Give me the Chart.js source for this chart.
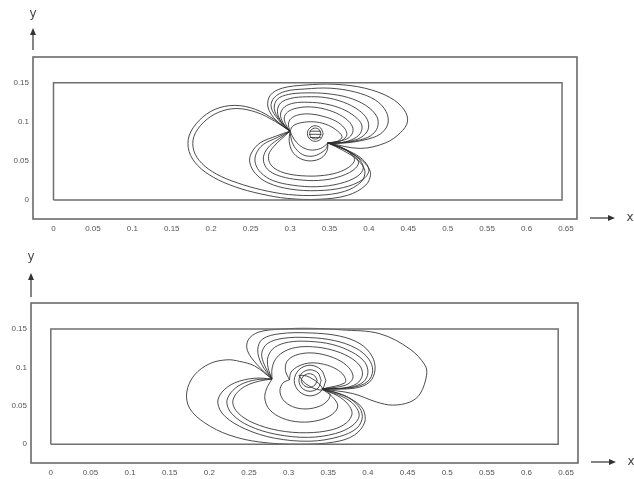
<!DOCTYPE html>
<html><head><meta charset="utf-8">
<script src="https://cdn.jsdelivr.net/npm/chart.js@4/dist/chart.umd.min.js"></script>
<style>
html,body{margin:0;padding:0;background:#fff;}
#wrap{position:relative;width:634px;height:479px;overflow:hidden;}
canvas{position:absolute;left:0;}
</style></head>
<body><div id="wrap"><canvas id="c1" width="634" height="240" style="top:0"></canvas><canvas id="c2" width="634" height="239" style="top:240px"></canvas></div>
<script>
// ---- tick labels ----
const xTickValues = [0,0.05,0.1,0.15,0.2,0.25,0.3,0.35,0.4,0.45,0.5,0.55,0.6,0.65];
const xTickLabels = ['0','0.05','0.1','0.15','0.2','0.25','0.3','0.35','0.4','0.45','0.5','0.55','0.6','0.65'];
const yTickValues = [0,0.05,0.1,0.15];
const yTickLabels = ['0','0.05','0.1','0.15'];

// ---- domain rectangles ----
const topDomain = [[0,0],[0.645,0],[0.645,0.15],[0,0.15],[0,0]];
const botDomain = [[0,0],[0.64,0],[0.64,0.15],[0,0.15],[0,0]];

// ---- top panel streamlines ----
const topBig1 = [[0.300,0.088],[0.280,0.103],[0.256,0.116],[0.230,0.121],[0.205,0.116],[0.185,0.102],[0.172,0.082],[0.172,0.062],[0.183,0.044],[0.203,0.029],[0.230,0.017],[0.262,0.008],[0.297,0.002],[0.338,0.001],[0.373,0.006],[0.396,0.019],[0.402,0.035],[0.392,0.050],[0.372,0.063],[0.348,0.073]];
const topBig2 = [[0.300,0.088],[0.282,0.100],[0.258,0.112],[0.232,0.117],[0.209,0.112],[0.190,0.099],[0.178,0.081],[0.178,0.063],[0.188,0.047],[0.207,0.033],[0.233,0.022],[0.264,0.013],[0.298,0.007],[0.336,0.006],[0.369,0.011],[0.390,0.023],[0.395,0.037],[0.386,0.051],[0.368,0.063],[0.348,0.073]];
const topLow1 = [[0.300,0.088],[0.283,0.082],[0.262,0.073],[0.251,0.060],[0.249,0.048],[0.256,0.034],[0.272,0.022],[0.300,0.014],[0.335,0.012],[0.368,0.016],[0.392,0.026],[0.400,0.038],[0.392,0.052],[0.372,0.064],[0.348,0.073]];
const topLow2 = [[0.300,0.088],[0.284,0.080],[0.266,0.071],[0.257,0.059],[0.256,0.047],[0.263,0.035],[0.278,0.025],[0.303,0.019],[0.334,0.017],[0.363,0.021],[0.385,0.030],[0.393,0.041],[0.386,0.054],[0.369,0.065],[0.348,0.073]];
const topLow3 = [[0.300,0.088],[0.287,0.079],[0.274,0.069],[0.267,0.058],[0.267,0.047],[0.274,0.037],[0.289,0.030],[0.310,0.026],[0.336,0.025],[0.360,0.029],[0.380,0.038],[0.387,0.048],[0.380,0.058],[0.366,0.067],[0.348,0.073]];
const topLow4 = [[0.300,0.088],[0.289,0.078],[0.279,0.068],[0.273,0.058],[0.274,0.048],[0.281,0.040],[0.295,0.034],[0.315,0.031],[0.338,0.031],[0.360,0.035],[0.376,0.043],[0.382,0.052],[0.375,0.061],[0.363,0.068],[0.348,0.073]];
const topSmall1 = [[0.300,0.088],[0.299,0.075],[0.303,0.062],[0.313,0.053],[0.327,0.050],[0.340,0.054],[0.347,0.063],[0.348,0.073]];
const topSmall2 = [[0.300,0.088],[0.302,0.076],[0.307,0.066],[0.316,0.058],[0.328,0.056],[0.339,0.060],[0.346,0.066],[0.348,0.073]];
const topSmall3 = [[0.300,0.088],[0.305,0.078],[0.312,0.070],[0.321,0.065],[0.331,0.064],[0.341,0.067],[0.348,0.073]];
const topUp1 = [[0.300,0.088],[0.282,0.102],[0.272,0.119],[0.275,0.134],[0.290,0.143],[0.319,0.147],[0.357,0.148],[0.395,0.143],[0.427,0.131],[0.445,0.115],[0.449,0.100],[0.440,0.086],[0.421,0.073],[0.389,0.066],[0.348,0.073]];
const topUp2 = [[0.300,0.088],[0.285,0.103],[0.276,0.119],[0.280,0.131],[0.294,0.139],[0.319,0.142],[0.351,0.143],[0.383,0.138],[0.408,0.128],[0.422,0.113],[0.424,0.097],[0.414,0.084],[0.395,0.077],[0.370,0.073],[0.348,0.073]];
const topUp3 = [[0.300,0.088],[0.287,0.102],[0.280,0.117],[0.284,0.129],[0.298,0.135],[0.320,0.137],[0.347,0.136],[0.374,0.131],[0.396,0.121],[0.410,0.107],[0.411,0.093],[0.402,0.082],[0.385,0.076],[0.364,0.073],[0.348,0.073]];
const topUp4 = [[0.300,0.088],[0.289,0.100],[0.284,0.113],[0.288,0.124],[0.301,0.130],[0.321,0.132],[0.345,0.131],[0.368,0.125],[0.387,0.115],[0.398,0.103],[0.399,0.090],[0.390,0.080],[0.375,0.075],[0.360,0.073],[0.348,0.073]];
const topUp5 = [[0.300,0.088],[0.291,0.099],[0.288,0.110],[0.293,0.119],[0.305,0.124],[0.323,0.125],[0.344,0.123],[0.365,0.117],[0.382,0.107],[0.391,0.096],[0.389,0.085],[0.378,0.077],[0.362,0.073],[0.348,0.073]];
const topUp6 = [[0.300,0.088],[0.294,0.098],[0.293,0.107],[0.299,0.114],[0.311,0.118],[0.327,0.119],[0.345,0.116],[0.363,0.109],[0.376,0.099],[0.380,0.089],[0.375,0.080],[0.362,0.075],[0.348,0.073]];
const topUp7 = [[0.300,0.088],[0.298,0.097],[0.301,0.104],[0.311,0.109],[0.326,0.110],[0.342,0.107],[0.358,0.101],[0.369,0.092],[0.372,0.083],[0.365,0.076],[0.348,0.073]];
const topUp8 = [[0.300,0.088],[0.304,0.095],[0.315,0.099],[0.330,0.100],[0.345,0.097],[0.358,0.090],[0.366,0.081],[0.360,0.075],[0.348,0.073]];
const topRing1 = [[0.342,0.085],[0.339,0.092],[0.332,0.095],[0.325,0.092],[0.322,0.085],[0.325,0.078],[0.332,0.075],[0.339,0.078],[0.342,0.085]];
const topRing2 = [[0.339,0.085],[0.337,0.090],[0.332,0.092],[0.327,0.090],[0.325,0.085],[0.327,0.080],[0.332,0.078],[0.337,0.080],[0.339,0.085]];
const topHatch = [[0.325,0.088],[0.339,0.088],[null,null],[0.324,0.084],[0.340,0.084],[null,null],[0.325,0.080],[0.339,0.080]];

// ---- bottom panel streamlines ----
const botBig = [[0.279,0.085],[0.257,0.102],[0.238,0.108],[0.222,0.110],[0.2005,0.105],[0.181,0.090],[0.1715,0.068],[0.175,0.047],[0.194,0.028],[0.225,0.012],[0.263,0.003],[0.314,0.000],[0.358,0.003],[0.383,0.012],[0.396,0.029],[0.393,0.047],[0.377,0.060],[0.358,0.068],[0.342,0.072]];
const botLow1 = [[0.279,0.085],[0.257,0.086],[0.232,0.080],[0.216,0.068],[0.2106,0.054],[0.219,0.037],[0.245,0.020],[0.282,0.008],[0.327,0.004],[0.364,0.010],[0.386,0.021],[0.393,0.036],[0.387,0.051],[0.371,0.063],[0.342,0.072]];
const botLow2 = [[0.279,0.085],[0.259,0.084],[0.240,0.078],[0.227,0.067],[0.222,0.054],[0.229,0.039],[0.250,0.024],[0.284,0.013],[0.325,0.009],[0.359,0.014],[0.380,0.024],[0.389,0.037],[0.383,0.051],[0.368,0.062],[0.342,0.072]];
const botLow3 = [[0.279,0.085],[0.262,0.082],[0.246,0.076],[0.234,0.066],[0.2295,0.054],[0.236,0.041],[0.255,0.028],[0.287,0.018],[0.323,0.015],[0.355,0.019],[0.373,0.028],[0.380,0.040],[0.375,0.052],[0.362,0.063],[0.342,0.072]];
const botLow4 = [[0.279,0.085],[0.272,0.072],[0.270,0.059],[0.276,0.045],[0.292,0.034],[0.314,0.029],[0.337,0.031],[0.355,0.039],[0.362,0.050],[0.355,0.062],[0.342,0.072]];
const botLowC = [[0.301,0.084],[0.293,0.080],[0.289,0.070],[0.293,0.058],[0.305,0.049],[0.322,0.046],[0.340,0.050],[0.350,0.058],[0.352,0.066],[0.342,0.072]];
const botUp1 = [[0.279,0.085],[0.260,0.104],[0.248,0.122],[0.249,0.136],[0.262,0.146],[0.290,0.150],[0.327,0.151],[0.367,0.149],[0.415,0.144],[0.453,0.124],[0.472,0.103],[0.474,0.090],[0.466,0.066],[0.453,0.055],[0.431,0.051],[0.411,0.055],[0.381,0.066],[0.342,0.072]];
const botUp2 = [[0.279,0.085],[0.266,0.104],[0.261,0.123],[0.267,0.137],[0.289,0.144],[0.327,0.145],[0.364,0.141],[0.390,0.131],[0.405,0.115],[0.409,0.097],[0.402,0.081],[0.383,0.073],[0.342,0.072]];
const botUp3 = [[0.279,0.085],[0.270,0.102],[0.266,0.118],[0.273,0.131],[0.293,0.138],[0.325,0.139],[0.358,0.135],[0.385,0.125],[0.401,0.111],[0.406,0.096],[0.400,0.082],[0.381,0.074],[0.342,0.072]];
const botUp4 = [[0.279,0.085],[0.274,0.100],[0.274,0.114],[0.282,0.126],[0.300,0.133],[0.326,0.134],[0.355,0.130],[0.380,0.120],[0.396,0.107],[0.400,0.093],[0.394,0.081],[0.377,0.074],[0.342,0.072]];
const botUp5 = [[0.279,0.085],[0.279,0.098],[0.283,0.110],[0.293,0.120],[0.309,0.126],[0.330,0.127],[0.354,0.123],[0.376,0.114],[0.390,0.102],[0.393,0.090],[0.386,0.079],[0.368,0.073],[0.342,0.072]];
const botUp6 = [[0.301,0.084],[0.296,0.096],[0.298,0.108],[0.309,0.116],[0.327,0.119],[0.347,0.116],[0.366,0.108],[0.378,0.097],[0.381,0.086],[0.372,0.077],[0.342,0.072]];
const botUp7 = [[0.301,0.084],[0.303,0.094],[0.313,0.102],[0.328,0.106],[0.345,0.104],[0.360,0.098],[0.370,0.089],[0.371,0.080],[0.342,0.072]];
const botRing0 = [[0.347,0.083],[0.341,0.097],[0.327,0.103],[0.313,0.097],[0.307,0.083],[0.313,0.069],[0.327,0.063],[0.341,0.069],[0.347,0.083]];
const botRing1 = [[0.341,0.083],[0.337,0.093],[0.327,0.097],[0.317,0.093],[0.313,0.083],[0.317,0.073],[0.327,0.069],[0.337,0.073],[0.341,0.083]];
const botRing2 = [[0.336,0.083],[0.333,0.089],[0.326,0.092],[0.319,0.089],[0.316,0.083],[0.319,0.077],[0.326,0.074],[0.333,0.077],[0.336,0.083]];
const botEllipse = [[0.313,0.090],[0.3228,0.0889],[0.3307,0.0847],[0.3378,0.0794],[0.343,0.071],[0.3332,0.0722],[0.3253,0.0763],[0.3182,0.0817],[0.313,0.090]];

const topCurves = [topBig1,topBig2,topLow1,topLow2,topLow3,topLow4,topSmall1,topSmall2,topSmall3,topUp1,topUp2,topUp3,topUp4,topUp5,topUp6,topUp7,topUp8,topRing1,topRing2,topHatch];
const botCurves = [botBig,botLow1,botLow2,botLow3,botLow4,botLowC,botUp1,botUp2,botUp3,botUp4,botUp5,botUp6,botUp7,botRing0,botRing1,botRing2,botEllipse];

const LINE = 'rgba(45,45,45,0.85)';
const toPts = arr => arr.map(p => ({x:p[0], y:p[1]}));

const decor = {
  id:'decor',
  afterDraw(chart, args, o){
    const {ctx, chartArea:a} = chart;
    ctx.save();
    ctx.strokeStyle = '#6a6a6a'; ctx.lineWidth = 1.6;
    ctx.strokeRect(a.left, a.top, a.right-a.left, a.bottom-a.top);
    ctx.strokeStyle = '#333'; ctx.fillStyle = '#333'; ctx.lineWidth = 1.2;
    const tipY = a.top - o.yGap - o.yLen;
    ctx.beginPath(); ctx.moveTo(a.left, a.top - o.yGap); ctx.lineTo(a.left, tipY + 5); ctx.stroke();
    ctx.beginPath(); ctx.moveTo(a.left, tipY); ctx.lineTo(a.left-3, tipY+7); ctx.lineTo(a.left+3, tipY+7); ctx.closePath(); ctx.fill();
    const yb = a.bottom - 1;
    const tipX = a.right + 38;
    ctx.beginPath(); ctx.moveTo(a.right + 13, yb); ctx.lineTo(tipX - 5, yb); ctx.stroke();
    ctx.beginPath(); ctx.moveTo(tipX, yb); ctx.lineTo(tipX-7, yb-3); ctx.lineTo(tipX-7, yb+3); ctx.closePath(); ctx.fill();
    ctx.font = '12px "DejaVu Sans", sans-serif';
    ctx.textAlign = 'center'; ctx.textBaseline = 'middle';
    ctx.fillStyle = '#444';
    ctx.fillText('y', a.left, tipY - o.yLabelGap);
    ctx.fillText('x', a.right + 53, yb);
    ctx.restore();
  }
};

function makeChart(id, curves, domain, cfg){
  const datasets = [{
    data: toPts(domain), showLine:true, borderColor:'#6f6f6f', borderWidth:1.5, pointRadius:0, tension:0
  }];
  curves.forEach(c => datasets.push({
    data: toPts(c), showLine:true, borderColor:LINE, borderWidth:1, pointRadius:0, tension:0.35, spanGaps:false
  }));
  return new Chart(document.getElementById(id), {
    type:'scatter',
    data:{datasets},
    options:{
      responsive:false, animation:false, events:[],
      layout:{padding:{left:0, top:cfg.padTop, right:cfg.padRight, bottom:0}},
      plugins:{legend:{display:false}, tooltip:{enabled:false}, decor:cfg.decor},
      scales:{
        x:{type:'linear', min:cfg.xmin, max:cfg.xmax,
           grid:{display:false, drawTicks:false, tickLength:0}, border:{display:false},
           afterBuildTicks: s => { s.ticks = xTickValues.map(v => ({value:v})); },
           afterFit: s => { s.height = cfg.xAxisH; },
           ticks:{autoSkip:false, maxRotation:0, padding:5, color:'#555', font:{size:8, family:'"Liberation Sans", Arial, sans-serif'},
             callback:(v) => { const i = xTickValues.indexOf(v); return i >= 0 ? xTickLabels[i] : ''; }}},
        y:{type:'linear', min:cfg.ymin, max:cfg.ymax,
           grid:{display:false, drawTicks:false, tickLength:0}, border:{display:false},
           afterBuildTicks: s => { s.ticks = yTickValues.map(v => ({value:v})); },
           afterFit: s => { s.width = cfg.yAxisW; },
           ticks:{autoSkip:false, padding:4, color:'#555', font:{size:8, family:'"Liberation Sans", Arial, sans-serif'},
             callback:(v) => { const i = yTickValues.indexOf(v); return i >= 0 ? yTickLabels[i] : ''; }}}
      }
    },
    plugins:[decor]
  });
}

makeChart('c1', topCurves, topDomain, {
  padTop:57, padRight:57, xAxisH:21, yAxisW:33,
  xmin:-0.026, xmax:0.664, ymin:-0.0243, ymax:0.1829,
  decor:{yGap:7, yLen:22, yLabelGap:14}
});
makeChart('c2', botCurves, botDomain, {
  padTop:63, padRight:56, xAxisH:16, yAxisW:31,
  xmin:-0.025, xmax:0.665, ymin:-0.0244, ymax:0.184,
  decor:{yGap:6, yLen:24, yLabelGap:16}
});
</script></body></html>
